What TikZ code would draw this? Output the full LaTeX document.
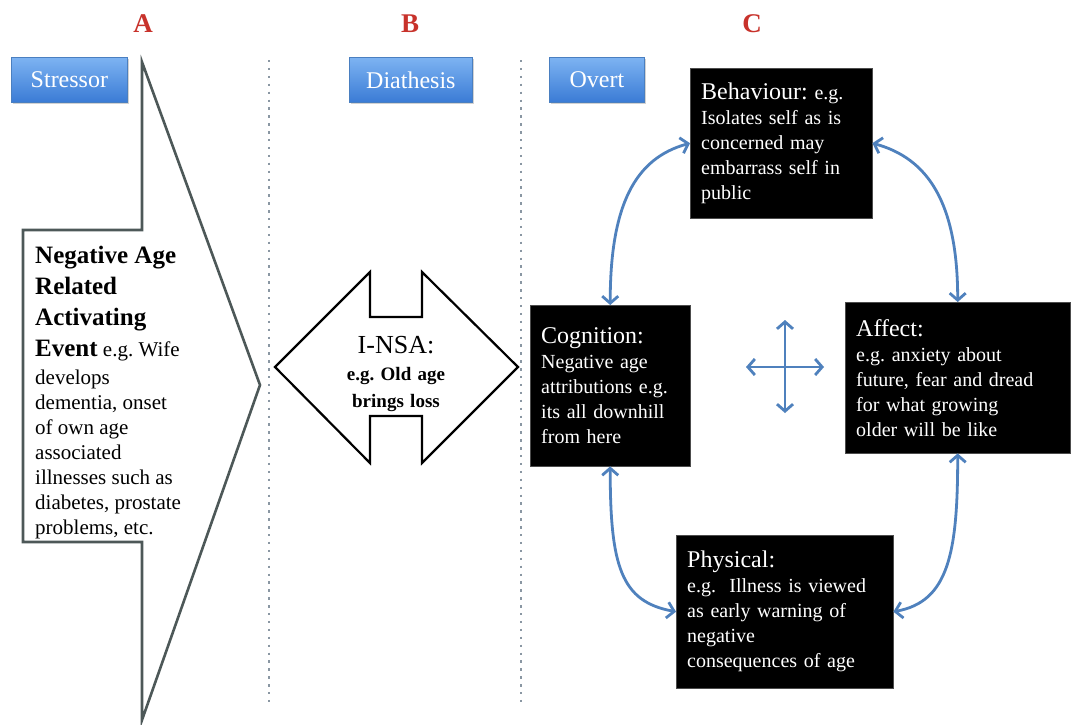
\documentclass[tikz,border=0pt]{standalone}
\usepackage{fontspec}
\setmainfont{Liberation Serif}
\usetikzlibrary{arrows.meta,shadows,calc}
\frenchspacing
\definecolor{arrowblue}{HTML}{4F81BD}
\definecolor{outline}{HTML}{4D5858}
\definecolor{lblTop}{HTML}{7DB3F2}
\definecolor{lblBot}{HTML}{3A7BD5}
\definecolor{lblEdge}{HTML}{4A7FC0}
\definecolor{letterred}{HTML}{C8322B}
\definecolor{dotgray}{HTML}{8A97A3}
\tikzset{
  lbl/.style={draw=lblEdge, line width=0.8pt, top color=lblTop, bottom color=lblBot,
    text=white, font=\rmfamily\fontsize{24}{28}\selectfont, minimum height=45pt, inner sep=0pt,
    anchor=north west, drop shadow={shadow xshift=2pt, shadow yshift=-2pt, opacity=0.35}},
  letter/.style={text=letterred, font=\rmfamily\bfseries\fontsize{27}{30}\selectfont},
  bbox/.style={fill=black, draw=black!70, text=white, anchor=north west, align=left,
    inner xsep=11pt, inner ysep=0pt, font=\rmfamily\fontsize{20}{25}\selectfont},
  link/.style={draw=arrowblue, line width=2.8pt, {Straight Barb[length=7pt,width=16pt]}-{Straight Barb[length=7pt,width=16pt]}},
  divider/.style={draw=dotgray, line width=2.4pt, dash pattern=on 2.4pt off 5.5pt},
  outlineshape/.style={draw=outline, line width=2.6pt, fill=white, line join=miter}
}
\newcommand{\hd}[1]{{\fontsize{24}{30}\selectfont #1}}
\begin{document}
\begin{tikzpicture}[x=1pt,y=-1pt]
\useasboundingbox[fill=white] (0,0) rectangle (1076,724);

% column letters
\node[letter] (la) at (143,24) {A};
\node[letter] (lb) at (410,24) {B};
\node[letter] (lc) at (752,24) {C};

% dotted dividers
\coordinate (d1t) at (269,60);
\coordinate (d1b) at (269,702);
\coordinate (d2t) at (521,60);
\coordinate (d2b) at (521,702);
\draw[divider] (d1t) -- (d1b);
\draw[divider] (d2t) -- (d2b);

% blue labels
\node[lbl, minimum width=116pt] (stressor) at (11,57) {Stressor};
\node[lbl, minimum width=123pt] (diathesis) at (349,57) {Diathesis};
\node[lbl, minimum width=95pt] (overt) at (549,57) {Overt};

% stressor arrow shape
\coordinate (s1) at (142,62);
\coordinate (s2) at (260,385);
\coordinate (s3) at (142,720);
\coordinate (s4) at (142,542);
\coordinate (s5) at (23,542);
\coordinate (s6) at (23,230);
\coordinate (s7) at (142,230);
\draw[outlineshape] (s1) -- (s2) -- (s3) -- (s4) -- (s5) -- (s6) -- (s7) -- cycle;
\node[anchor=north west, align=left, inner sep=0pt, font=\rmfamily\bfseries\fontsize{25}{31}\selectfont] (stxt1) at (35,246)
  {Negative Age\\Related\\Activating};
\node[anchor=north west, align=left, inner sep=0pt, font=\rmfamily\fontsize{21}{25}\selectfont] (stxt2) at (35,340)
  {{\bfseries\fontsize{25}{31}\selectfont Event} e.g. Wife\\[3pt]develops\\dementia, onset\\of own age\\associated\\illnesses such as\\diabetes, prostate\\problems, etc.};

% I-NSA double arrow
\coordinate (n1) at (275,367);
\coordinate (n2) at (370,272);
\coordinate (n3) at (370,317);
\coordinate (n4) at (422,317);
\coordinate (n5) at (422,272);
\coordinate (n6) at (518,367);
\coordinate (n7) at (422,463);
\coordinate (n8) at (422,416);
\coordinate (n9) at (370,416);
\coordinate (n10) at (370,463);
\draw[draw=black, line width=2.2pt, fill=white, line join=miter] (n1) -- (n2) -- (n3) -- (n4) -- (n5) -- (n6) -- (n7) -- (n8) -- (n9) -- (n10) -- cycle;
\node[align=center, text width=150pt, inner sep=0pt, font=\rmfamily\bfseries\fontsize{19}{27}\selectfont] (insa) at (396,374)
  {{\mdseries\fontsize{26}{27}\selectfont I-NSA:}\\e.g. Old age\\brings loss};

% black boxes
\node[bbox, text width=160pt, minimum height=150pt] (beh) at (690,68)
  {\hd{Behaviour:} e.g.\\Isolates self as is\\concerned may\\embarrass self in\\public};
\node[bbox, text width=138pt, minimum height=161pt] (cog) at (530,305)
  {\hd{Cognition:}\\Negative age\\attributions e.g.\\its all downhill\\from here};
\node[bbox, text width=203pt, minimum height=151pt] (aff) at (845,302)
  {\hd{Affect:}\\e.g. anxiety about\\future, fear and dread\\for what growing\\older will be like};
\node[bbox, text width=195pt, minimum height=153pt] (phy) at (676,535)
  {\hd{Physical:}\\e.g.\ \ Illness is viewed\\as early warning of\\negative\\consequences of age};

% curved links
\draw[link] (beh.west) .. controls +(-55,15) and +(0,-100) .. (cog.north);
\draw[link] (beh.east) .. controls +(55,15) and +(0,-100) .. (aff.north);
\draw[link] (cog.south) .. controls +(0,100) and +(-55,-10) .. (phy.west);
\draw[link] (aff.south) .. controls +(0,100) and +(55,-10) .. (phy.east);

% cross arrow
\coordinate (cu) at (785,320);
\coordinate (cd) at (785,413);
\coordinate (cl) at (746,367);
\coordinate (cr) at (824,367);
\draw[link] (cu) -- (cd);
\draw[link] (cl) -- (cr);
\end{tikzpicture}
\end{document}
